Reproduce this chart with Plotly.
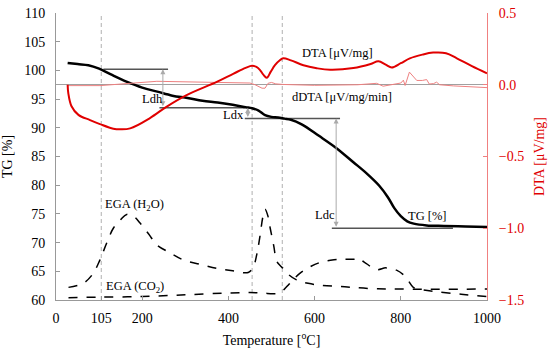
import plotly.graph_objects as go

# ---- data ----
tg_T = [27, 50, 75, 100, 130, 165, 200, 235, 270, 305, 340, 375, 410, 440, 455, 470, 485, 500, 515, 530, 545,
        570, 610, 650, 690, 720, 750, 770, 785, 800, 815, 830, 860, 900, 950, 1000]
tg_val = [101.3, 101.1, 100.9, 100.3, 99.2, 98.0, 97.0, 96.3, 95.6, 95.2, 94.7, 94.4, 94.0, 93.6, 93.4, 93.0, 92.2,
          91.9, 91.8, 91.6, 91.4, 90.6, 88.6, 86.5, 84.0, 82.1, 79.9, 77.9, 76.0, 74.6, 73.7, 73.3, 73.0, 72.9,
          72.8, 72.7]

dta_T = [27, 28.6, 36, 52, 79, 102, 133, 149, 172, 218, 257, 303, 373, 411, 440, 455, 465, 473, 481, 489, 498,
         508, 520, 527, 545, 574, 605, 636, 690, 730, 748, 765, 779, 800, 821, 850, 875, 905, 930, 965, 1000]
dta_val = [0.0, -0.06, -0.15, -0.21, -0.246, -0.274, -0.306, -0.31, -0.304, -0.232, -0.152, -0.072, 0.02, 0.076,
           0.118, 0.132, 0.124, 0.104, 0.07, 0.048, 0.09, 0.136, 0.172, 0.184, 0.17, 0.136, 0.115, 0.104, 0.116,
           0.145, 0.164, 0.14, 0.12, 0.15, 0.184, 0.21, 0.224, 0.22, 0.184, 0.13, 0.08]

ddta_T = [27, 102, 234, 334, 450, 462, 472, 478, 485, 492, 500, 510, 527, 600, 700, 744, 759, 782, 800, 806, 810,
          820, 837, 850, 860, 866, 876, 883, 890, 922, 1000]
ddta_val = [-0.006, -0.006, 0.024, 0.02, 0.012, 0.0, -0.015, -0.024, -0.024, 0.01, 0.016, 0.006, 0.002, -0.004,
            0.0, 0.01, -0.01, 0.004, 0.012, 0.032, -0.005, 0.088, 0.03, 0.03, 0.036, 0.005, 0.008, 0.018, 0.0,
            -0.008, -0.02]

h2o_T = [29, 63, 85, 102, 118, 133, 150, 164, 180, 195, 215, 234, 265, 295, 335, 373, 410, 446, 458, 466, 473,
         480, 485, 491, 497, 505, 512, 520, 527, 540, 558, 585, 612, 670, 729, 800, 1000]
h2o_val = [62.2, 62.9, 64.5, 67.0, 70.0, 72.5, 74.0, 74.9, 74.6, 73.4, 71.5, 69.6, 68.2, 67.0, 66.2, 65.5, 65.1,
           64.8, 65.8, 68.0, 71.0, 74.5, 75.8, 74.8, 72.5, 69.5, 66.8, 66.0, 65.5, 64.4, 63.5, 62.9, 62.6, 62.3,
           62.0, 61.9, 61.9]

co2_T = [29, 100, 200, 300, 390, 450, 480, 508, 520, 530, 540, 550, 565, 590, 615, 645, 670, 690, 700, 715, 745,
         765, 790, 806, 818, 829, 850, 883, 940, 1000]
co2_val = [60.4, 60.5, 60.6, 60.9, 61.2, 61.3, 61.2, 61.1, 61.4, 61.9, 62.7, 63.5, 64.6, 65.8, 66.6, 67.0, 67.1,
           67.1, 67.3, 66.6, 65.3, 65.6, 65.2, 64.4, 63.3, 62.2, 61.8, 61.45, 61.0, 60.6]

vlines_T = [105, 455, 525]
x_ticks = [0, 105, 200, 400, 600, 800, 1000]
y_ticks = [60, 65, 70, 75, 80, 85, 90, 95, 100, 105, 110]
y2_ticks = [-1.5, -1.0, -0.5, 0.0, 0.5]

# level lines: (T start, T end, TG level)
levels = [(110, 260, 100.2), (240, 450, 93.5), (438, 659, 91.6), (640, 921, 72.5)]
# arrows: (T, TG top, TG bottom)
arrows = [(248, 100.2, 93.5), (445, 93.5, 91.6), (650, 91.6, 72.5)]
# labels: (text, T, TG)
labels = [("Ldh", 223, 95.0), ("Ldx", 411, 92.2), ("Ldc", 624, 74.8), ("TG [%]", 861, 74.6),
          ("DTA [μV/mg]", 652, 103.0), ("dDTA [μV/mg/min]", 664, 95.4),
          ("EGA (H<sub>2</sub>O)", 183, 76.6), ("EGA (CO<sub>2</sub>)", 183, 62.3)]

FONT = "Liberation Serif, Times New Roman, DejaVu Serif, serif"
RED = "#e00000"

fig = go.Figure()

fig.add_trace(go.Scatter(x=h2o_T, y=h2o_val, mode="lines", line=dict(color="black", width=1.5, dash="dash"),
                         line_shape="spline"))
fig.add_trace(go.Scatter(x=co2_T, y=co2_val, mode="lines", line=dict(color="black", width=1.5, dash="dash"),
                         line_shape="spline"))
fig.add_trace(go.Scatter(x=ddta_T, y=ddta_val, mode="lines", line=dict(color="#ee8080", width=1), yaxis="y2"))
fig.add_trace(go.Scatter(x=dta_T, y=dta_val, mode="lines", line=dict(color=RED, width=2), yaxis="y2",
                         line_shape="spline"))
fig.add_trace(go.Scatter(x=tg_T, y=tg_val, mode="lines", line=dict(color="black", width=2.5),
                         line_shape="spline"))

for t0, t1, lv in levels:
    fig.add_shape(type="line", xref="x", yref="y", x0=t0, x1=t1, y0=lv, y1=lv,
                  line=dict(color="#555555", width=1.5), layer="below")

for t in vlines_T:
    fig.add_shape(type="line", xref="x", yref="y", x0=t, x1=t, y0=60, y1=110,
                  line=dict(color="#b0b0b0", width=1, dash="4px,3px"), layer="below")

for t, top, bot in arrows:
    fig.add_annotation(x=t, y=top, ax=t, ay=bot, xref="x", yref="y", axref="x", ayref="y", text="",
                       showarrow=True, arrowhead=2, arrowside="end+start", arrowsize=1, arrowwidth=1,
                       arrowcolor="#aaaaaa", startarrowhead=2, startarrowsize=1)

for txt, t, v in labels:
    fig.add_annotation(x=t, y=v, xref="x", yref="y", text=txt, showarrow=False,
                       font=dict(family=FONT, size=12.5, color="black"))

fig.update_layout(
    width=550, height=353,
    margin=dict(l=56, r=63, t=13, b=53),
    paper_bgcolor="white", plot_bgcolor="white",
    showlegend=False,
    font=dict(family=FONT, size=14, color="black"),
    xaxis=dict(range=[0, 1000], tickvals=x_ticks, ticktext=[str(v) for v in x_ticks], automargin=False,
               showgrid=False, zeroline=False, showline=True, linecolor="#999999", linewidth=1,
               ticks="inside", ticklen=4, tickcolor="#999999", ticklabelstandoff=5,
               title=dict(text="Temperature [<sup>o</sup>C]", font=dict(family=FONT, size=14), standoff=10),
               tickfont=dict(family=FONT, size=14)),
    yaxis=dict(range=[60, 110], tickvals=y_ticks, showgrid=False, zeroline=False, showline=True, automargin=False,
               linecolor="#999999", linewidth=1, ticks="inside", ticklen=4, tickcolor="#999999",
               ticklabelstandoff=7,
               title=dict(text="TG [%]", font=dict(family=FONT, size=14), standoff=10),
               tickfont=dict(family=FONT, size=14)),
    yaxis2=dict(range=[-1.5, 0.5], tickvals=y2_ticks, tickformat=".1f", overlaying="y", side="right",
                automargin=False, ticklabelstandoff=8,
                showgrid=False, zeroline=True, zerolinecolor="#a0a0a0", zerolinewidth=1,
                showline=True, linecolor="#f08080", linewidth=1, ticks="inside", ticklen=4, tickcolor="#f08080",
                tickfont=dict(family=FONT, size=14, color=RED),
                title=dict(text="DTA [μV/mg]", font=dict(family=FONT, size=14, color=RED), standoff=10)),
)

fig.write_html("out.html", config={"displayModeBar": False},
               post_script="document.body.style.margin='0px';")
